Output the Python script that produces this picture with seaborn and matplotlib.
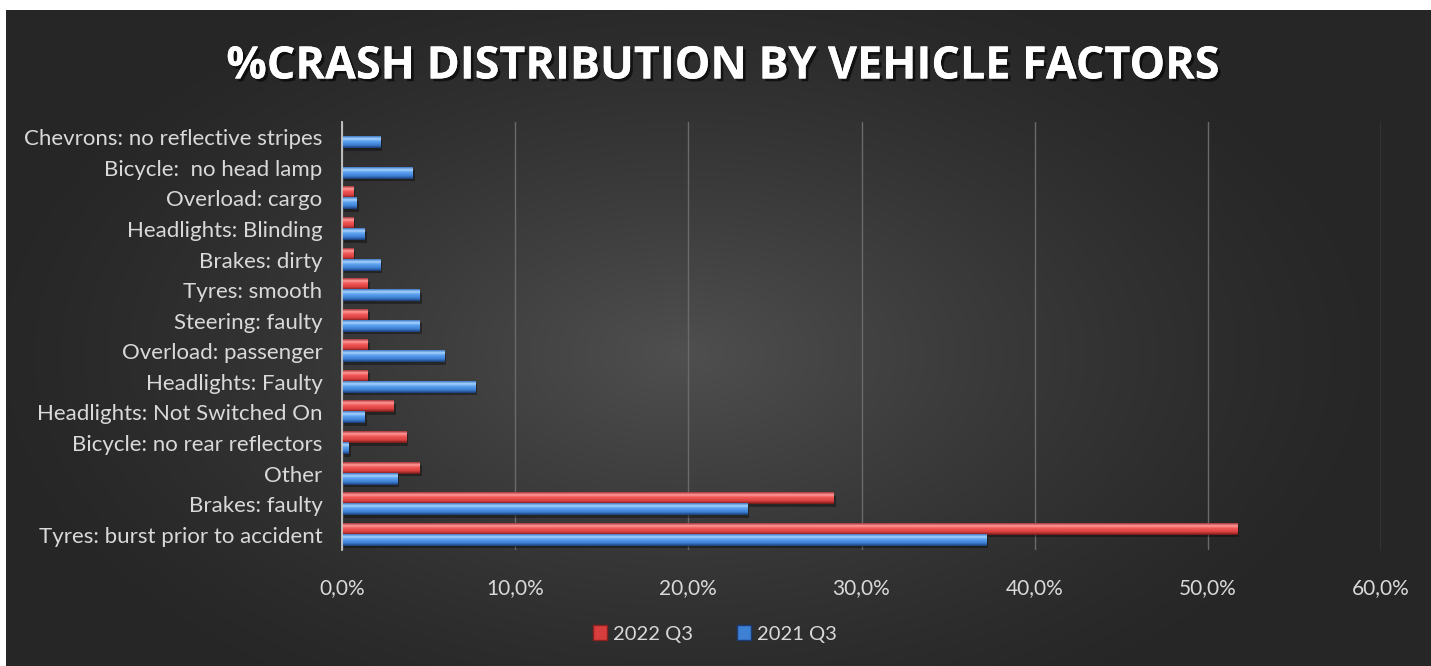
import numpy as np
import pandas as pd
import matplotlib
matplotlib.use("Agg")
import matplotlib.pyplot as plt
import matplotlib.patheffects as pe
import matplotlib.transforms as mtransforms
from matplotlib.colors import LinearSegmentedColormap
from matplotlib.patches import Patch, Rectangle
from matplotlib.ticker import FuncFormatter, MultipleLocator
import seaborn as sns

# ---- data (percent of crashes) ----
factors = [
    "Chevrons: no reflective stripes",
    "Bicycle:  no head lamp",
    "Overload: cargo",
    "Headlights: Blinding",
    "Brakes: dirty",
    "Tyres: smooth",
    "Steering: faulty",
    "Overload: passenger",
    "Headlights: Faulty",
    "Headlights: Not Switched On",
    "Bicycle: no rear reflectors",
    "Other",
    "Brakes: faulty",
    "Tyres: burst prior to accident",
]
share_2022_q3 = [0.0, 0.0, 0.65, 0.65, 0.65, 1.5, 1.5, 1.5, 1.5, 3.0, 3.7, 4.5, 28.4, 51.7]
share_2021_q3 = [2.2, 4.1, 0.85, 1.3, 2.2, 4.5, 4.5, 5.9, 7.7, 1.3, 0.4, 3.2, 23.4, 37.2]
periods = ["2022 Q3", "2021 Q3"]

df = pd.DataFrame({
    "factor": factors * 2,
    "period": [periods[0]] * len(factors) + [periods[1]] * len(factors),
    "share": share_2022_q3 + share_2021_q3,
})

W, H = 1431, 666
fig = plt.figure(figsize=(W / 100, H / 100), dpi=100, facecolor="white")

# ---- dark radial background panel ----
bg = fig.add_axes([6 / W, 0, 1 - 6 / W, 1 - 10 / H], zorder=0)
bg.set_axis_off()
gx = np.linspace(-1, 1, 500)
gy = np.linspace(-1, 1, 240)
XX, YY = np.meshgrid(gx, gy)
r = np.sqrt(((XX + 0.05) / 1.0) ** 2 + ((YY - 0.05) / 1.25) ** 2)
shade = np.clip(1 - r, 0, 1) ** 1.3
lum = 0.15 + 0.16 * shade
bg.imshow(np.dstack([lum, lum, lum]), aspect="auto", extent=[0, 1, 0, 1],
          interpolation="bilinear")
bg.set_xlim(0, 1)
bg.set_ylim(0, 1)

# ---- bar chart ----
ax = fig.add_axes([342 / W, 1 - 550 / H, (1381 - 342) / W, 428 / H], zorder=1)
ax.patch.set_alpha(0)
palette = {"2022 Q3": "#e24a4a", "2021 Q3": "#4a8fe0"}
sns.barplot(data=df, y="factor", x="share", hue="period", hue_order=periods,
            order=factors, palette=palette, width=0.72, ax=ax, legend=False,
            errorbar=None, saturation=1)

ramps = {
    "2022 Q3": LinearSegmentedColormap.from_list(
        "r", [(0, "#a83232"), (0.22, "#ff9c9c"), (0.42, "#f25a5a"),
              (0.75, "#d83e3e"), (1, "#6e1a1a")]),
    "2021 Q3": LinearSegmentedColormap.from_list(
        "b", [(0, "#3a76c2"), (0.22, "#a9d5ff"), (0.42, "#5ea2f0"),
              (0.75, "#3d80d4"), (1, "#1a3b74")]),
}
grad = np.linspace(0, 1, 64).reshape(-1, 1)
shadow_tf = mtransforms.offset_copy(ax.transData, fig=fig, x=2, y=-2.5, units="dots")
for period, container in zip(periods, ax.containers):
    for bar in container:
        x0, y0 = bar.get_x(), bar.get_y()
        w, h = bar.get_width(), bar.get_height()
        bar.set_visible(False)
        if w <= 0:
            continue
        ax.add_patch(Rectangle((x0, y0), w, h, transform=shadow_tf,
                               facecolor="black", alpha=0.35, linewidth=0, zorder=2))
        ax.imshow(grad, cmap=ramps[period], aspect="auto",
                  extent=[x0, x0 + w, y0 + h, y0], interpolation="bilinear", zorder=3)

ax.set_xlim(0, 60)
ax.set_ylim(len(factors) - 0.5, -0.5)
ax.xaxis.set_major_locator(MultipleLocator(10))
ax.xaxis.set_major_formatter(FuncFormatter(lambda v, _: f"{v:.1f}%".replace(".", ",")))
ax.grid(axis="x", color="#6a6a6a", linewidth=1)
ax.grid(axis="y", visible=False)
ax.set_axisbelow(True)
for side in ["top", "right", "bottom"]:
    ax.spines[side].set_visible(False)
ax.spines["left"].set_color("#c8c8c8")
ax.spines["left"].set_linewidth(1.3)
ax.spines["left"].set_zorder(4)
ax.set_xlabel("")
ax.set_ylabel("")
ax.tick_params(axis="both", length=0, colors="#d9d9d9")
ax.tick_params(axis="x", pad=20, labelsize=15)
ax.tick_params(axis="y", pad=14, labelsize=16)
for lab in ax.get_xticklabels() + ax.get_yticklabels():
    lab.set_fontfamily("Lato")

# ---- title ----
fig.text(723 / W, 1 - 67 / H, "%CRASH DISTRIBUTION BY VEHICLE FACTORS",
         ha="center", va="center", fontsize=32.3, fontweight="bold",
         family="Open Sans", color="white",
         path_effects=[pe.withSimplePatchShadow(offset=(2, -2), shadow_rgbFace="black", alpha=0.6),
                       pe.Normal()])

# ---- legend ----
handles = [Patch(facecolor="#d83e3e", edgecolor="#8a2020", label=periods[0]),
           Patch(facecolor="#3d80d4", edgecolor="#1a3b74", label=periods[1])]
leg = fig.legend(handles=handles, loc="center", bbox_to_anchor=(715 / W, 1 - 634 / H),
                 ncol=2, frameon=False, handlelength=0.7, handleheight=0.7,
                 handletextpad=0.3, columnspacing=2.2,
                 prop={"family": "Lato", "size": 14.5})
for t in leg.get_texts():
    t.set_color("#d9d9d9")

fig.savefig("out.png", dpi=100, facecolor="white")
